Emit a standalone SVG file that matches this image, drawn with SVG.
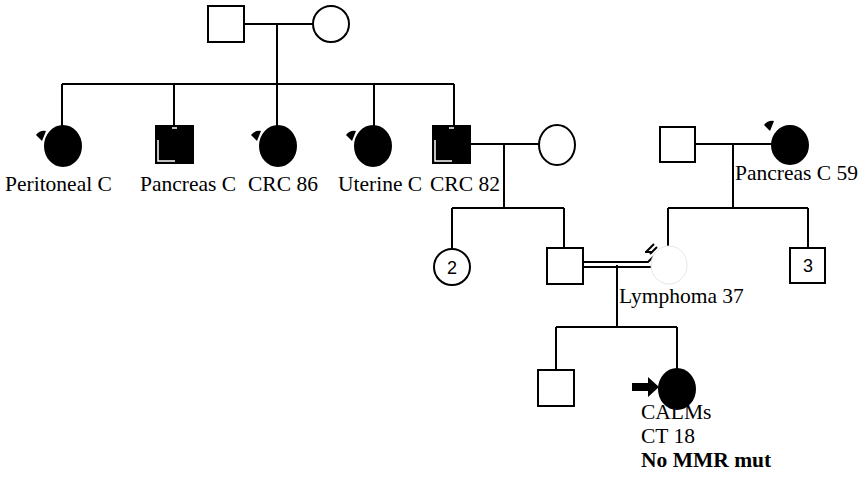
<svg xmlns="http://www.w3.org/2000/svg" width="860" height="486" viewBox="0 0 860 486">
<style>
.ln{stroke:#000;stroke-width:2;fill:none}
.un{fill:#fff;stroke:#000;stroke-width:2}
.af{fill:#000;stroke:#000;stroke-width:2}
.wl{stroke:#fff;stroke-width:1.5;fill:none}
.lb{font-family:"Liberation Serif","Times New Roman",serif;font-size:21.5px;fill:#000}
.nm{font-family:"Liberation Sans",Arial,sans-serif;font-size:18px;fill:#000;text-anchor:middle}
</style>
<defs>
<path id="flag" d="M0,4 Q4,-1 10,0 L6,10 Z" fill="#000"/>
<g id="afsq"><rect x="0" y="0" width="37" height="37" class="af"/><path d="M2,14 V35 H19 M16,2 H21" class="wl"/></g>
</defs>
<g id="connectors">
<path class="ln" d="M244,24 H313 M277,24 V84 M62,84 H454 M62,84 V126 M174,84 V126 M277,84 V126 M374,84 V126 M454,84 V126"/>
<path class="ln" d="M470,144 H539 M504,144 V208 M452,208 H564 M452,208 V249 M564,208 V248"/>
<path class="ln" d="M695,144 H772 M733,144 V208 M668,208 H808 M668,208 V246 M808,208 V248"/>
<path class="ln" d="M584,262 H648 L656,254 M584,267 H651 L659,259 M645,252 H652 M646,252 L654,244 M650,254 L657,247"/>
<path class="ln" d="M617,265 V327 M556,327 H677 M556,327 V370 M677,327 V369"/>
</g>
<g id="n1"><rect x="208" y="6" width="36" height="36" class="un"/></g>
<g id="n2"><ellipse cx="331" cy="24" rx="18" ry="18" class="un"/></g>
<g id="n3"><ellipse cx="63" cy="146" rx="18" ry="20" class="af"/><use href="#flag" x="36" y="131"/><text class="lb" x="5" y="191">Peritoneal C</text></g>
<g id="n4"><use href="#afsq" x="156" y="126"/><text class="lb" x="140" y="191">Pancreas C</text></g>
<g id="n5"><ellipse cx="278" cy="146" rx="18" ry="20" class="af"/><use href="#flag" x="251" y="131"/><text class="lb" x="248" y="191">CRC 86</text></g>
<g id="n6"><ellipse cx="373" cy="146" rx="18" ry="20" class="af"/><use href="#flag" x="346" y="131"/><text class="lb" x="338" y="191">Uterine C</text></g>
<g id="n7"><use href="#afsq" x="433" y="126"/><text class="lb" x="430" y="191">CRC 82</text></g>
<g id="n8"><ellipse cx="557" cy="145" rx="18" ry="20" class="un"/></g>
<g id="n9"><rect x="660" y="127" width="35" height="35" class="un"/></g>
<g id="n10"><ellipse cx="790" cy="145" rx="18" ry="19" class="af"/><use href="#flag" x="764" y="121"/><text class="lb" x="735" y="180">Pancreas C 59</text></g>
<g id="n11"><ellipse cx="452" cy="267" rx="18" ry="18" class="un"/><text class="nm" x="452" y="274">2</text></g>
<g id="n12"><rect x="547" y="248" width="36" height="36" class="un"/></g>
<g id="n13"><ellipse cx="669" cy="265" rx="18" ry="19" fill="#fff" stroke="#e6e6e6" stroke-width="1"/><text class="lb" x="619" y="303">Lymphoma 37</text></g>
<g id="n14"><rect x="790" y="248" width="35" height="35" class="un"/><text class="nm" x="808" y="272">3</text></g>
<g id="n15"><rect x="538" y="370" width="36" height="36" class="un"/></g>
<g id="n16"><ellipse cx="677" cy="389" rx="18" ry="20" class="af"/><path d="M632,383 H648 V377 L659,387 L648,397 V391 H632 Z" fill="#000"/>
<text class="lb" x="641" y="419">CALMs</text><text class="lb" x="641" y="443">CT 18</text><text class="lb" x="641" y="467" font-weight="bold">No MMR mut</text></g>
</svg>
